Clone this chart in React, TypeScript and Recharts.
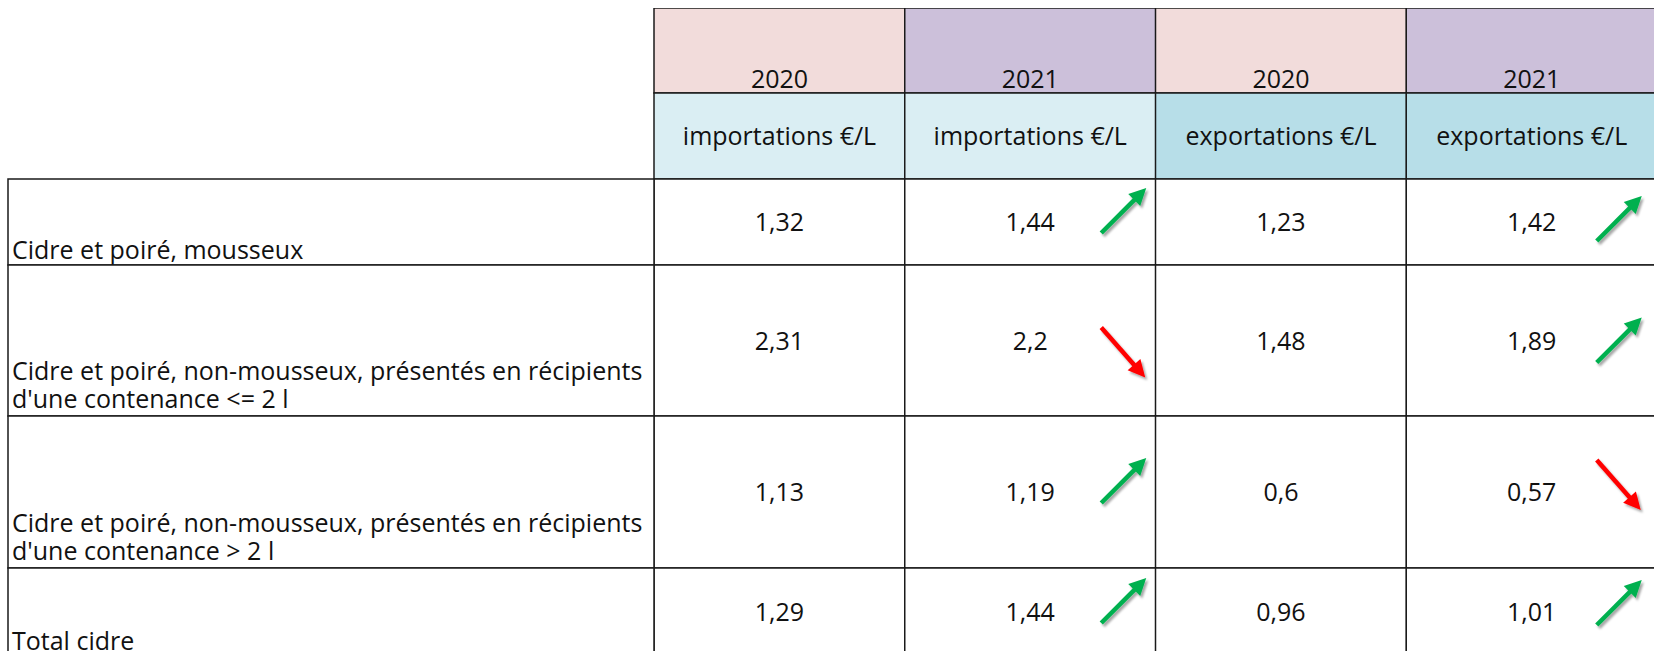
import React from 'react';
import { BarChart, Bar, XAxis, YAxis, Cell, LabelList } from 'recharts';

// ---------- data ----------
const COLUMN_KEYS = ['imp2020', 'imp2021', 'exp2020', 'exp2021'];
const YEARS = ['2020', '2021', '2020', '2021'];
const FLOWS = ['importations €/L', 'importations €/L', 'exportations €/L', 'exportations €/L'];
const PRODUCTS = [
  ['Cidre et poiré, mousseux'],
  ['Cidre et poiré, non-mousseux, présentés en récipients', "d'une contenance <= 2 l"],
  ['Cidre et poiré, non-mousseux, présentés en récipients', "d'une contenance > 2 l"],
  ['Total cidre'],
];
const IMPORTS_2020 = [1.32, 2.31, 1.13, 1.29];
const IMPORTS_2021 = [1.44, 2.2, 1.19, 1.44];
const EXPORTS_2020 = [1.23, 1.48, 0.6, 0.96];
const EXPORTS_2021 = [1.42, 1.89, 0.57, 1.01];
const SERIES = [IMPORTS_2020, IMPORTS_2021, EXPORTS_2020, EXPORTS_2021];
const COMPARE_WITH: (number | null)[] = [null, 0, null, 2];

// ---------- layout / style ----------
const ROW_KEYS = ['year', 'flow', 'p0', 'p1', 'p2', 'p3'];
const ROW_HEIGHTS = [85, 86, 86, 151, 152, 88];
const TOTAL = ROW_HEIGHTS.reduce((a, b) => a + b, 0);
const YEAR_FILLS = ['#F2DCDB', '#CCC0DA', '#F2DCDB', '#CCC0DA'];
const FLOW_FILLS = ['#DAEEF3', '#DAEEF3', '#B7DEE8', '#B7DEE8'];
const FONT = "'Open Sans', sans-serif";
const FONT_SIZE = 25;
const LINE = '#1a1a1a';
const TEXT = '#111';
const TABLE_LEFT = 8;
const CHART_W = 1660;
const CHART_H = 660;
const MARGIN = { top: 8, left: 654, right: 3, bottom: CHART_H - 8 - TOTAL };
// hand-placed arrow nudges (per column, per product row), as in the source sheet
const ARROW_DX: Record<number, number> = { 1: 71, 3: 65 };
const ARROW_DY: Record<number, number[]> = { 1: [0, 9, 0, 0], 3: [8, 11, -10, 2] };

const tableData = COLUMN_KEYS.map((k) => {
  const o: any = { col: k };
  ROW_KEYS.forEach((rk, i) => (o[rk] = ROW_HEIGHTS[i]));
  return o;
});

const fmt = (v: number) => String(v).replace('.', ',');

function geom(p: any) {
  const vb = p.viewBox && p.viewBox.width != null ? p.viewBox : p;
  const x = Number(vb.x), y = Number(vb.y), w = Number(vb.width), h = Number(vb.height);
  return { x: Math.min(x, x + w), y: Math.min(y, y + h), w: Math.abs(w), h: Math.abs(h) };
}

function Arrow({ x1, y1, x2, y2, color, id }: any) {
  const dx = x2 - x1, dy = y2 - y1;
  const len = Math.hypot(dx, dy);
  const ux = dx / len, uy = dy / len;
  const nx = -uy, ny = ux;
  const L = 17, W = 8.5;
  const bx = x2 - ux * L, by = y2 - uy * L;
  return (
    <g>
      <defs>
        <filter id={id} x="-50%" y="-50%" width="200%" height="200%">
          <feDropShadow dx="2" dy="2.5" stdDeviation="1.2" floodColor="#000" floodOpacity="0.35" />
        </filter>
      </defs>
      <g filter={`url(#${id})`}>
        <line x1={x1} y1={y1} x2={bx + ux * 2} y2={by + uy * 2} stroke={color} strokeWidth={4.5} />
        <polygon
          points={`${x2},${y2} ${bx + nx * W},${by + ny * W} ${bx - nx * W},${by - ny * W}`}
          fill={color}
        />
      </g>
    </g>
  );
}

const renderYear = (p: any) => {
  const g = geom(p);
  const i = p.index;
  return (
    <text x={g.x + g.w / 2} y={g.y + g.h - 5} textAnchor="middle" fontFamily={FONT} fontSize={FONT_SIZE} fill={TEXT}>
      {YEARS[i]}
    </text>
  );
};

const renderFlow = (p: any) => {
  const g = geom(p);
  const i = p.index;
  return (
    <text x={g.x + g.w / 2} y={g.y + g.h / 2 + 9} textAnchor="middle" fontFamily={FONT} fontSize={FONT_SIZE} fill={TEXT}>
      {FLOWS[i]}
    </text>
  );
};

const makeProductRenderer = (r: number) => (p: any) => {
  const g = geom(p);
  const i = p.index;
  const cx = g.x + g.w / 2;
  const cy = g.y + g.h / 2;
  const v = SERIES[i][r];
  const prevCol = COMPARE_WITH[i];
  let arrow = null;
  if (prevCol != null) {
    const prev = SERIES[prevCol][r];
    const up = v >= prev;
    const ax = cx + ARROW_DX[i];
    const ay = cy + ARROW_DY[i][r];
    arrow = up ? (
      <Arrow x1={ax} y1={ay + 11} x2={ax + 45} y2={ay - 34} color="#00B050" id={`sh-${r}-${i}`} />
    ) : (
      <Arrow x1={ax} y1={ay - 22} x2={ax + 44} y2={ay + 28} color="#FF0000" id={`sh-${r}-${i}`} />
    );
  }
  let labelCell = null;
  if (i === 0) {
    const lines = PRODUCTS[r];
    const bottom = g.y + g.h;
    const lastBase = lines.length > 1 ? bottom - 8 : bottom - 6;
    const firstBase = lastBase - (lines.length - 1) * 28;
    labelCell = (
      <g>
        <rect x={TABLE_LEFT} y={g.y} width={g.x - TABLE_LEFT} height={g.h} fill="#fff" stroke={LINE} strokeWidth={1.5} />
        <text x={TABLE_LEFT + 4} y={firstBase} fontFamily={FONT} fontSize={FONT_SIZE} fill={TEXT}>
          {lines.map((ln, k) => (
            <tspan key={k} x={TABLE_LEFT + 4} dy={k === 0 ? 0 : 28}>
              {ln}
            </tspan>
          ))}
        </text>
      </g>
    );
  }
  return (
    <g>
      {labelCell}
      <text x={cx} y={cy + 9} textAnchor="middle" fontFamily={FONT} fontSize={FONT_SIZE} fill={TEXT}>
        {fmt(v)}
      </text>
      {arrow}
    </g>
  );
};

export default function App() {
  return (
    <div style={{ position: 'fixed', left: 0, top: 0, width: 1654, height: 651, overflow: 'hidden', background: '#fff' }}>
      <BarChart width={CHART_W} height={CHART_H} data={tableData} margin={MARGIN} barCategoryGap={0}>
        <XAxis dataKey="col" type="category" hide />
        <YAxis type="number" domain={[0, TOTAL]} allowDataOverflow reversed hide />
        <Bar dataKey="year" stackId="t" stroke={LINE} strokeWidth={1.5} isAnimationActive={false}>
          {COLUMN_KEYS.map((k, i) => (
            <Cell key={k} fill={YEAR_FILLS[i]} />
          ))}
          <LabelList dataKey="year" content={renderYear} />
        </Bar>
        <Bar dataKey="flow" stackId="t" stroke={LINE} strokeWidth={1.5} isAnimationActive={false}>
          {COLUMN_KEYS.map((k, i) => (
            <Cell key={k} fill={FLOW_FILLS[i]} />
          ))}
          <LabelList dataKey="flow" content={renderFlow} />
        </Bar>
        {[0, 1, 2, 3].map((r) => (
          <Bar key={r} dataKey={`p${r}`} stackId="t" fill="#fff" stroke={LINE} strokeWidth={1.5} isAnimationActive={false}>
            <LabelList dataKey={`p${r}`} content={makeProductRenderer(r)} />
          </Bar>
        ))}
      </BarChart>
    </div>
  );
}
